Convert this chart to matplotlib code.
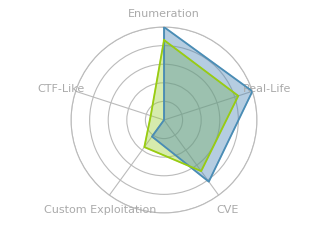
import numpy as np
import matplotlib
matplotlib.use('Agg')
import matplotlib.pyplot as plt
import matplotlib.transforms as mtransforms

categories = ['Enumeration', 'Real-Life', 'CVE', 'Custom Exploitation', 'CTF-Like']
blue_vals = [1.0, 1.0, 0.82, 0.22, 0.0]
green_vals = [0.86, 0.84, 0.68, 0.36, 0.15]

n = len(categories)
angles = np.arange(n) * 2 * np.pi / n

fig = plt.figure(figsize=(3.2, 2.4), dpi=100)
ax = fig.add_axes([0.222, 0.1125, 0.581, 0.775], projection='polar')
ax.set_theta_offset(np.pi / 2)
ax.set_theta_direction(-1)

def closed(v):
    return list(v) + [v[0]]

ang = closed(angles)
# fills underneath, outlines on top
ax.fill(ang, closed(green_vals), color='#9acd32', alpha=0.4, zorder=2)
ax.fill(ang, closed(blue_vals), color='#4682b4', alpha=0.4, zorder=3)
ax.plot(ang, closed(blue_vals), color='#4a8db5', lw=1.3, zorder=4)
ax.plot(ang, closed(green_vals), color='#99cc11', lw=1.3, zorder=5)

ax.set_xlim(0, 2 * np.pi)
ax.set_ylim(0, 1.0)
ax.set_yticks([0.2, 0.4, 0.6, 0.8, 1.0])
ax.set_yticklabels([])
ax.set_xticks(angles)
ax.set_xticklabels([])
ax.grid(color='#bbbbbb', lw=0.8)
ax.spines['polar'].set_color('#bbbbbb')
ax.spines['polar'].set_linewidth(0.8)

# labels sit a couple of pixels below their radial spot
lab_tr = mtransforms.offset_copy(ax.transData, fig=fig, y=-2, units='dots')
for a, lab in zip(angles, categories):
    ax.text(a, 1.165, lab, ha='center', va='center', fontsize=8,
            color='#aaaaaa', clip_on=False, transform=lab_tr)

fig.savefig('out.png', dpi=100)
